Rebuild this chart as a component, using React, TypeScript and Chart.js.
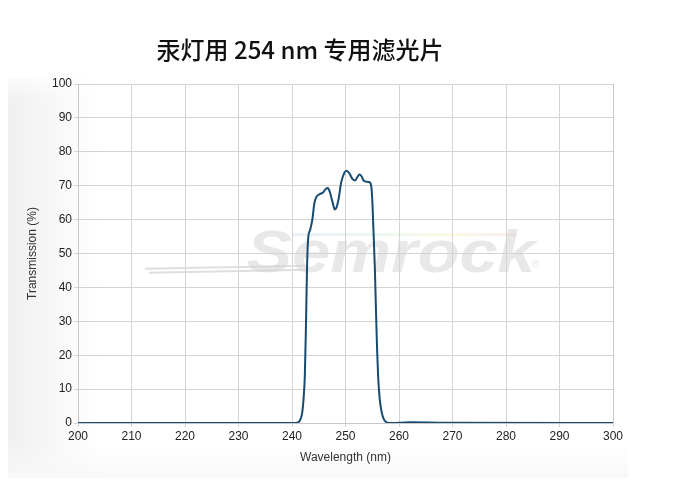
import React, { useEffect, useRef } from "react";
import { Chart, registerables } from "chart.js";

Chart.register(...registerables);

const TITLE = "汞灯用 254 nm 专用滤光片";
const X_TITLE = "Wavelength (nm)";
const Y_TITLE = "Transmission (%)";
const WATERMARK = "Semrock";

const wavelengths = [
  200, 240, 241, 241.5, 241.9, 242.2, 242.4, 242.6, 242.8, 243.0, 243.4, 243.8,
  244.2, 244.6, 245.2, 245.8, 246.3, 246.7, 247.1, 247.6, 248.0, 248.3, 248.7,
  249.2, 249.7, 250.2, 250.7, 251.3, 251.8, 252.2, 252.6, 253.0, 253.4, 253.9,
  254.4, 254.8, 255.0, 255.2, 255.5, 255.7, 255.9, 256.1, 256.4, 256.8, 257.2,
  257.7, 258.5, 262, 268, 300,
];
const transmission = [
  0, 0, 0.1, 0.8, 3, 8, 14, 28, 45, 54, 57, 60,
  65, 66.8, 67.5, 68, 69, 69.3, 68, 65, 63, 63.5, 66,
  71, 73.5, 74.4, 73.7, 72, 71.5, 72.5, 73.3, 72.8, 71.5, 71.2,
  71.1, 70, 66, 58, 45, 33, 22, 13.7, 7, 2.9, 1,
  0.2, 0, 0.2, 0.1, 0,
];

const bgPlugin = {
  id: "bgPlugin",
  beforeDraw(chart: any) {
    const ctx = chart.ctx;
    ctx.save();
    const g = ctx.createLinearGradient(8, 0, 100, 0);
    g.addColorStop(0, "rgba(240,240,240,1)");
    g.addColorStop(1, "rgba(255,255,255,1)");
    ctx.fillStyle = g;
    ctx.fillRect(8, 78, 92, 395);
    const g3 = ctx.createLinearGradient(0, 70, 0, 100);
    g3.addColorStop(0, "rgba(255,255,255,1)");
    g3.addColorStop(1, "rgba(255,255,255,0)");
    ctx.fillStyle = g3;
    ctx.fillRect(8, 70, 92, 30);
    const g2 = ctx.createLinearGradient(0, 445, 0, 478);
    g2.addColorStop(0, "rgba(250,250,250,0)");
    g2.addColorStop(1, "rgba(247,247,247,1)");
    ctx.fillStyle = g2;
    ctx.fillRect(8, 445, 620, 33);
    ctx.restore();
  },
};

const watermarkPlugin = {
  id: "watermarkPlugin",
  beforeDatasetsDraw(chart: any) {
    const ctx = chart.ctx;
    const xs = chart.scales.x;
    const ys = chart.scales.y;
    ctx.save();
    // rainbow streak
    const x0 = xs.getPixelForValue(240);
    const x1 = xs.getPixelForValue(282);
    const yr = ys.getPixelForValue(56);
    const rg = ctx.createLinearGradient(x0, 0, x1, 0);
    rg.addColorStop(0, "rgba(150,180,230,0.2)");
    rg.addColorStop(0.4, "rgba(170,230,190,0.25)");
    rg.addColorStop(0.7, "rgba(240,230,150,0.25)");
    rg.addColorStop(1, "rgba(240,160,160,0.2)");
    ctx.fillStyle = rg;
    ctx.fillRect(x0, yr, x1 - x0, 3);
    // swoosh lines
    ctx.strokeStyle = "rgba(220,220,220,0.9)";
    ctx.lineWidth = 2;
    const l0 = xs.getPixelForValue(212.5);
    const l1 = xs.getPixelForValue(243);
    const yl = ys.getPixelForValue(45.5);
    ctx.beginPath();
    ctx.moveTo(l0, yl);
    ctx.lineTo(l1, yl - 3);
    ctx.moveTo(l0 + 4, yl + 4);
    ctx.lineTo(l1, yl + 1);
    ctx.stroke();
    // text
    ctx.fillStyle = "rgba(210,210,210,0.5)";
    ctx.font = "italic bold 60px 'Liberation Sans', Arial, sans-serif";
    ctx.textBaseline = "alphabetic";
    const tx = xs.getPixelForValue(231.5);
    const ty = ys.getPixelForValue(44.5);
    ctx.translate(tx, ty);
    ctx.scale(1.14, 1);
    ctx.fillText(WATERMARK, 0, 0);
    ctx.font = "10px 'Liberation Sans', Arial, sans-serif";
    ctx.fillText("®", 250, -4);
    ctx.restore();
  },
};

export default function App() {
  const canvasRef = useRef<HTMLCanvasElement | null>(null);

  useEffect(() => {
    if (!canvasRef.current) return;
    const points = wavelengths.map((w, i) => ({ x: w, y: transmission[i] }));
    const tickFont = { family: "'Liberation Sans', Arial, sans-serif", size: 12 };
    const chart = new Chart(canvasRef.current, {
      type: "line",
      data: {
        datasets: [
          {
            data: points,
            borderColor: "#174b6f",
            borderWidth: 2,
            pointRadius: 0,
            fill: false,
            cubicInterpolationMode: "monotone",
          },
        ],
      },
      options: {
        animation: false,
        responsive: false,
        maintainAspectRatio: false,
        layout: { padding: { top: 84, right: 87, bottom: 20, left: 0 } },
        plugins: {
          legend: { display: false },
          tooltip: { enabled: false },
          title: { display: false },
        },
        scales: {
          x: {
            type: "linear",
            min: 200,
            max: 300,
            afterFit: (s: any) => {
              s.height = 47;
            },
            ticks: { stepSize: 10, color: "#222", font: tickFont, padding: 2, maxRotation: 0 },
            grid: { color: "#d4d4d4", tickLength: 4, drawTicks: true },
            border: { color: "#c8c8c8" },
            title: {
              display: true,
              text: X_TITLE,
              color: "#333",
              font: tickFont,
              padding: { top: 0, bottom: 5 },
            },
          },
          y: {
            min: 0,
            max: 100,
            afterFit: (s: any) => {
              s.width = 78;
            },
            ticks: { stepSize: 10, color: "#222", font: tickFont, padding: 2 },
            grid: { color: "#d4d4d4", tickLength: 4 },
            border: { color: "#c8c8c8" },
            title: {
              display: true,
              text: Y_TITLE,
              color: "#333",
              font: tickFont,
              padding: { top: 25, bottom: 0 },
            },
          },
        },
      },
      plugins: [bgPlugin, watermarkPlugin, {
        id: "rightBorder",
        afterDraw(c: any) {
          const { ctx, chartArea } = c;
          ctx.save();
          ctx.strokeStyle = "#c8c8c8";
          ctx.lineWidth = 1;
          ctx.beginPath();
          ctx.moveTo(chartArea.right + 0.5, chartArea.top);
          ctx.lineTo(chartArea.right + 0.5, chartArea.bottom);
          ctx.stroke();
          ctx.restore();
        },
      }],
    } as any);
    return () => chart.destroy();
  }, []);

  return (
    <div style={{ position: "fixed", left: 0, top: 0, width: 700, height: 490, background: "#fff" }}>
      <canvas ref={canvasRef} width={700} height={490} style={{ position: "absolute", left: 0, top: 0 }} />
      <div
        style={{
          position: "absolute",
          left: 0,
          width: 600,
          top: 33,
          textAlign: "center",
          fontFamily: "'Noto Sans CJK SC', 'Noto Sans', sans-serif",
          fontSize: 24,
          fontWeight: 500,
          lineHeight: "32px",
          color: "#111",
        }}
      >
        {TITLE}
      </div>
    </div>
  );
}
